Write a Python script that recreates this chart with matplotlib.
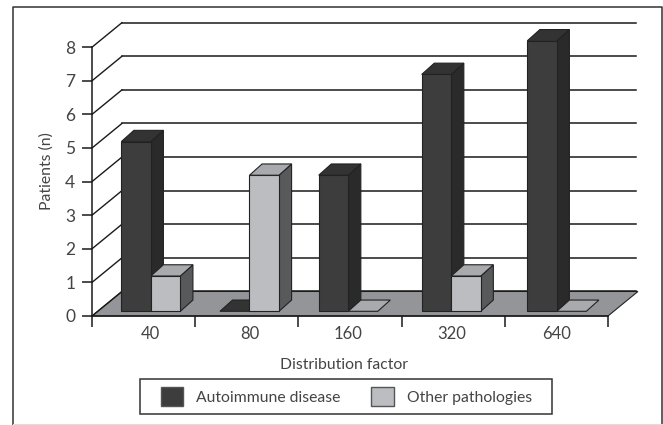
#!/usr/bin/env python3

import matplotlib
matplotlib.use("Agg")
import matplotlib.pyplot as plt
from matplotlib.patches import Patch, Polygon, Rectangle

plt.rcParams["font.family"] = ["Lato", "DejaVu Sans"]

categories = ["40", "80", "160", "320", "640"]
autoimmune = [5, 0, 4, 7, 8]
other = [1, 4, 0, 1, 0]
y_ticks = [0, 1, 2, 3, 4, 5, 6, 7, 8]

# where each dark bar starts inside the x scale (the original is not evenly spaced)
bar_left = [0.284, 1.240, 2.197, 3.195, 4.218]
bar_width = 0.286

# fake 3D offsets in data units
floor_dx, floor_dy = 0.29, 0.73
bar_dx, bar_dy = 0.122, 0.335
bar_lift = 0.14
top_lift = 0.19

text_col = "#444444"
line_col = "#1a1a1a"
dark = ("#3d3d3d", "#2b2a2a", "#333333")
light = ("#bcbdc0", "#58595b", "#a9aaad")

fig = plt.figure(figsize=(6.63, 4.25), dpi=100)
ax = fig.add_axes([92 / 663, 1 - 316 / 425, 516 / 663, 268.8 / 425])
ax.set_xlim(0, 5)
ax.set_ylim(0, 8)
ax.patch.set_visible(False)


def draw_bar(x, val, cols):
    front, side, top = cols
    y0 = bar_lift
    y1 = bar_lift if val == 0 else top_lift + val
    x1 = x + bar_width
    kw = dict(edgecolor="#222222", linewidth=0.8, clip_on=False, zorder=4)
    if val > 0:
        ax.add_patch(Polygon([(x1, y0), (x1 + bar_dx, y0 + bar_dy), (x1 + bar_dx, y1 + bar_dy), (x1, y1)],
                             facecolor=side, **kw))
        ax.add_patch(Rectangle((x, y0), bar_width, y1 - y0, facecolor=front, **kw))
    ax.add_patch(Polygon([(x, y1), (x1, y1), (x1 + bar_dx, y1 + bar_dy), (x + bar_dx, y1 + bar_dy)],
                         facecolor=top, **kw))


# floor
ax.add_patch(Polygon([(0, 0), (5, 0), (5 + floor_dx, floor_dy), (floor_dx, floor_dy)],
                     facecolor="#939598", edgecolor="#222222", linewidth=0.8, clip_on=False, zorder=1))

# wall lines
for t in y_ticks:
    ax.plot([0, floor_dx], [t, t + floor_dy], color=line_col, lw=1, clip_on=False, zorder=2)
    ax.plot([floor_dx, 5 + floor_dx - 0.02], [t + floor_dy, t + floor_dy], color=line_col, lw=1.1,
            clip_on=False, zorder=2)

for i in range(len(categories)):
    draw_bar(bar_left[i], autoimmune[i], dark)
    draw_bar(bar_left[i] + bar_width, other[i], light)

for s in ["top", "right"]:
    ax.spines[s].set_visible(False)
for s in ["left", "bottom"]:
    ax.spines[s].set_color(line_col)
    ax.spines[s].set_linewidth(1.1)
    ax.spines[s].set_zorder(5)

ax.set_yticks(y_ticks)
ax.set_xticks(range(6))
ax.set_xticklabels([])
ax.set_xticks([b + bar_width for b in bar_left], labels=categories, minor=True)
ax.tick_params(axis="x", which="major", length=8, width=1.1, color=line_col)
ax.tick_params(axis="x", which="minor", length=0, pad=7, labelsize=12, labelcolor=text_col)
ax.tick_params(axis="y", length=7, width=1.1, color=line_col, pad=5, labelsize=12.5, labelcolor=text_col)

ax.set_xlabel("Distribution factor", fontsize=11.3, color=text_col, x=0.488, labelpad=12)
ax.set_ylabel("Patients (n)", fontsize=11.3, color=text_col, y=0.54, labelpad=8)

# outer frame, open at the bottom of the crop
fig.add_artist(plt.Line2D([12.5 / 663, 12.5 / 663, 661.5 / 663, 661.5 / 663],
                          [0, 1 - 6.5 / 425, 1 - 6.5 / 425, 0], color="#333333", lw=1.1))
fig.add_artist(plt.Line2D([12.5 / 663, 661.5 / 663], [0.8 / 425, 0.8 / 425], color="#dddddd", lw=0.8))

# legend box is wider than the entries, so it is drawn on its own
fig.add_artist(Rectangle((140 / 663, 1 - 414 / 425), 412 / 663, 35.3 / 425, transform=fig.transFigure,
                         facecolor="white", edgecolor="#333333", linewidth=1.1))
handles = [Patch(facecolor=dark[0], edgecolor="#555555", label="Autoimmune disease"),
           Patch(facecolor=light[0], edgecolor="#555555", label="Other pathologies")]
fig.legend(handles=handles, ncol=2, loc="center", bbox_to_anchor=(346.5 / 663, 1 - 396.5 / 425),
           frameon=False, fontsize=11.3, labelcolor=text_col,
           handlelength=1.46, handleheight=1.46, handletextpad=0.83, columnspacing=1.95,
           borderpad=0, borderaxespad=0)

fig.savefig("out.png", dpi=100)
